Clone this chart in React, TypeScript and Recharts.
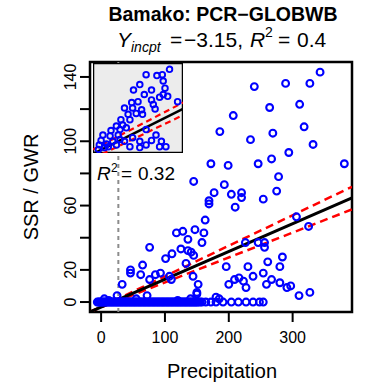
import React from "react";
import { ScatterChart, Scatter, XAxis, YAxis, ReferenceLine, ReferenceArea } from "recharts";

const FONT = '"Liberation Sans", Arial, Helvetica, sans-serif';

const xTicks = [0, 100, 200, 300];
const yTicks = [0, 20, 40, 60, 80, 100, 120, 140];
const yLabelled = [0, 20, 60, 100, 140];

// scattered months (precipitation, SSR/GWR)
const pointX = [
  343, 240, 289, 327, 264, 311, 207, 186, 234, 269, 318, 332, 294, 267, 246, 199, 172, 381, 278, 145,
  193, 177, 204, 220, 220, 275, 254, 169, 169, 210, 163, 306, 325, 118, 128, 147, 161, 136, 158, 76,
  125, 136, 141, 111, 145, 101, 133, 226, 246, 256, 256, 65, 46, 46, 62, 76, 85, 93, 107, 110,
  144, 152, 150, 33, 25, 196, 230, 261, 284, 280, 238, 254, 200, 209, 216, 223, 227, 259, 267, 280,
  291, 297, 310, 327, 150, 180, 72, 5, 12, 55, 120, 140, 185,
];
const pointY = [
  143, 134, 136, 136, 121, 123, 116, 106, 101, 105, 109, 98, 93, 89, 86, 85, 86, 86, 78, 75,
  73, 68, 67, 68, 65, 69, 64, 63, 61, 59, 51, 53, 47, 43, 44, 45, 43, 39, 37, 34,
  33, 32, 31, 30, 29, 27, 24, 37, 37, 37, 34, 23, 20, 18, 17, 14, 17, 18, 16, 14,
  16, 11, 6, 11, 4, 22, 22, 25, 28, 22, 16, 18, 11, 14, 15, 13, 9, 11, 14, 12,
  9, 10, 4, 6, 5, 3, 4, 2, 1, 2, 1, 2, 2,
];

// months with (near) zero SSR/GWR
const zeroX = [
  -6, -4, -2, 0, 2, 4, 6, 8, 10, 12, 14, 16, 18, 20, 22, 24, 26, 28, 30, 32,
  34, 36, 38, 40, 42, 44, 46, 48, 50, 52, 54, 56, 58, 60, 62, 64, 66, 68, 70, 72,
  74, 76, 78, 80, 82, 84, 86, 88, 90, 92, 94, 96, 98, 100, 102, 104, 106, 108, 110, 112,
  114, 116, 118, 120, 122, 124, 126, 128, 130, 132, 134, 136, 138, 140, 142, 144, 146, 148, 150, 152,
  155, 158, 164, 172, 180, 191, 204, 215, 227, 238, 248, 254,
];

const fit = { intercept: -3.15, slope: 0.173 };
const fitUpper = { intercept: -3.0, slope: 0.19 };
const fitLower = { intercept: -3.3, slope: 0.155 };
const thresholdX = 27;

const xDomain = [-17.4, 393];
const yDomain = [-6.2, 149.3];

// inset (normalised units)
const insetX = [
  0.85, 0.77, 0.59, 0.71, 0.52, 0.78, 0.45, 0.65, 0.8, 0.57, 0.78, 0.83, 0.74, 0.65, 0.43, 0.5, 0.67, 0.94, 0.35, 0.44,
  0.54, 0.69, 0.48, 0.39, 0.55, 0.41, 0.31, 0.33, 0.26, 0.2, 0.3, 0.37, 0.11, 0.19, 0.28, 0.59, 0.7, 0.65, 0.76, 0.81,
  0.52, 0.44, 0.09, 0.07, 0.17, 0.26, 0.35, 0.74, 0.59, 0.41, 0.3, 0.22, 0.13, 0.52, 0.06, 0.15,
];
const insetY = [
  0.93, 0.87, 0.87, 0.86, 0.76, 0.8, 0.7, 0.7, 0.72, 0.65, 0.65, 0.63, 0.62, 0.59, 0.56, 0.57, 0.54, 0.57, 0.5, 0.5,
  0.48, 0.49, 0.44, 0.43, 0.43, 0.37, 0.37, 0.31, 0.3, 0.25, 0.26, 0.28, 0.2, 0.19, 0.2, 0.26, 0.2, 0.14, 0.13, 0.07,
  0.13, 0.17, 0.14, 0.09, 0.07, 0.09, 0.13, 0.07, 0.09, 0.07, 0.15, 0.13, 0.06, 0.06, 0.04, 0.1,
];
const insetFit = { intercept: -0.01, slope: 0.5 };
const insetUpper = { intercept: 0.04, slope: 0.52 };
const insetLower = { intercept: -0.06, slope: 0.48 };

const points = pointX.map((x, i) => ({ x, y: pointY[i] }));
const zeros = zeroX.map((x) => ({ x, y: 0 }));
const insetPoints = insetX.map((x, i) => ({ x, y: insetY[i] }));

const seg = (f: { intercept: number; slope: number }, x0: number, x1: number) => [
  { x: x0, y: f.intercept + f.slope * x0 },
  { x: x1, y: f.intercept + f.slope * x1 },
];

const OpenCircle = (p: any) => (
  <circle cx={p.cx} cy={p.cy} r={3.4} fill="none" stroke="#0000ff" strokeWidth={2.1} />
);
const SmallCircle = (p: any) => (
  <circle cx={p.cx} cy={p.cy} r={2.8} fill="none" stroke="#0000ff" strokeWidth={1.9} />
);

const YTick = (p: any) => {
  const v = p.payload.value;
  if (!yLabelled.includes(v)) return null;
  return (
    <text
      transform={`translate(${p.x - 2},${p.y}) rotate(-90)`}
      textAnchor="middle"
      fontSize={16}
      fontFamily={FONT}
      fill="#000"
    >
      {v}
    </text>
  );
};

export default function App() {
  return (
    <div style={{ position: "absolute", left: 0, top: 0, width: 367, height: 390, background: "#fff" }}>
      <ScatterChart width={367} height={390} margin={{ top: 62, right: 15, bottom: 0, left: 0 }}>
        <XAxis
          type="number"
          dataKey="x"
          domain={xDomain}
          ticks={xTicks}
          interval={0}
          allowDataOverflow
          axisLine={false}
          height={78}
          tickSize={10}
          tickMargin={10}
          tickLine={{ stroke: "#000", strokeWidth: 2 }}
          tick={{ fill: "#000", fontSize: 16, fontFamily: FONT }}
        />
        <YAxis
          type="number"
          dataKey="y"
          domain={yDomain}
          ticks={yTicks}
          interval={0}
          allowDataOverflow
          axisLine={false}
          width={90}
          tickSize={10}
          tickMargin={2}
          tickLine={{ stroke: "#000", strokeWidth: 2 }}
          tick={<YTick />}
        />
        <ReferenceLine x={thresholdX} stroke="#8c8c8c" strokeWidth={2} strokeDasharray="4 4" />
        <Scatter data={zeros} shape={OpenCircle} isAnimationActive={false} />
        <Scatter data={points} shape={OpenCircle} isAnimationActive={false} />
        <ReferenceLine segment={seg(fitUpper, xDomain[0], xDomain[1])} ifOverflow="hidden" stroke="#ff0000" strokeWidth={2.5} strokeDasharray="8 5" />
        <ReferenceLine segment={seg(fitLower, xDomain[0], xDomain[1])} ifOverflow="hidden" stroke="#ff0000" strokeWidth={2.5} strokeDasharray="8 5" />
        <ReferenceLine segment={seg(fit, xDomain[0], xDomain[1])} ifOverflow="hidden" stroke="#000" strokeWidth={3} />
        <ReferenceArea x1={xDomain[0]} x2={xDomain[1]} y1={yDomain[0]} y2={yDomain[1]} fill="none" stroke="#000" strokeWidth={2.5} ifOverflow="visible" />
      </ScatterChart>

      <div style={{ position: "absolute", left: 93, top: 63, width: 90, height: 90 }}>
        <ScatterChart width={90} height={90} margin={{ top: 0, right: 0, bottom: 0, left: 0 }}>
          <XAxis type="number" dataKey="x" domain={[0, 1]} hide height={0} allowDataOverflow />
          <YAxis type="number" dataKey="y" domain={[0, 1]} hide width={0} allowDataOverflow />
          <ReferenceArea x1={0} x2={1} y1={0} y2={1} fill="#ececec" fillOpacity={1} stroke="none" ifOverflow="visible" />
          <Scatter data={insetPoints} shape={SmallCircle} isAnimationActive={false} />
          <ReferenceLine segment={seg(insetUpper, 0, 1)} ifOverflow="hidden" stroke="#ff0000" strokeWidth={2.2} strokeDasharray="6 4" />
          <ReferenceLine segment={seg(insetLower, 0, 1)} ifOverflow="hidden" stroke="#ff0000" strokeWidth={2.2} strokeDasharray="6 4" />
          <ReferenceLine segment={seg(insetFit, 0, 1)} ifOverflow="hidden" stroke="#000" strokeWidth={2.6} />
          <ReferenceArea x1={0} x2={1} y1={0} y2={1} fill="none" stroke="#000" strokeWidth={2.5} ifOverflow="visible" />
        </ScatterChart>
      </div>

      <svg width={367} height={390} style={{ position: "absolute", left: 0, top: 0, pointerEvents: "none" }} fontFamily={FONT}>
        <text x={223} y={21} textAnchor="middle" fontSize={19.5} fontWeight="bold">
          Bamako: PCR−GLOBWB
        </text>
        <text y={47} fontSize={21}>
          <tspan x={117} fontStyle="italic">Y</tspan>
          <tspan x={131} y={52} fontSize={14} fontStyle="italic">incpt</tspan>
          <tspan x={170} y={47}>=</tspan>
          <tspan x={184}>−3.15,</tspan>
          <tspan x={250} fontStyle="italic">R</tspan>
          <tspan x={265} y={37} fontSize={14}>2</tspan>
          <tspan x={278} y={47}>=</tspan>
          <tspan x={297}>0.4</tspan>
        </text>
        <text y={180} fontSize={19}>
          <tspan x={97} fontStyle="italic">R</tspan>
          <tspan x={111} y={172} fontSize={12}>2</tspan>
          <tspan x={121} y={180}>=</tspan>
          <tspan x={138}>0.32</tspan>
        </text>
        <text transform="translate(38,187) rotate(-90)" textAnchor="middle" fontSize={20}>
          SSR / GWR
        </text>
        <text x={222} y={378} textAnchor="middle" fontSize={20}>
          Precipitation
        </text>
      </svg>
    </div>
  );
}
